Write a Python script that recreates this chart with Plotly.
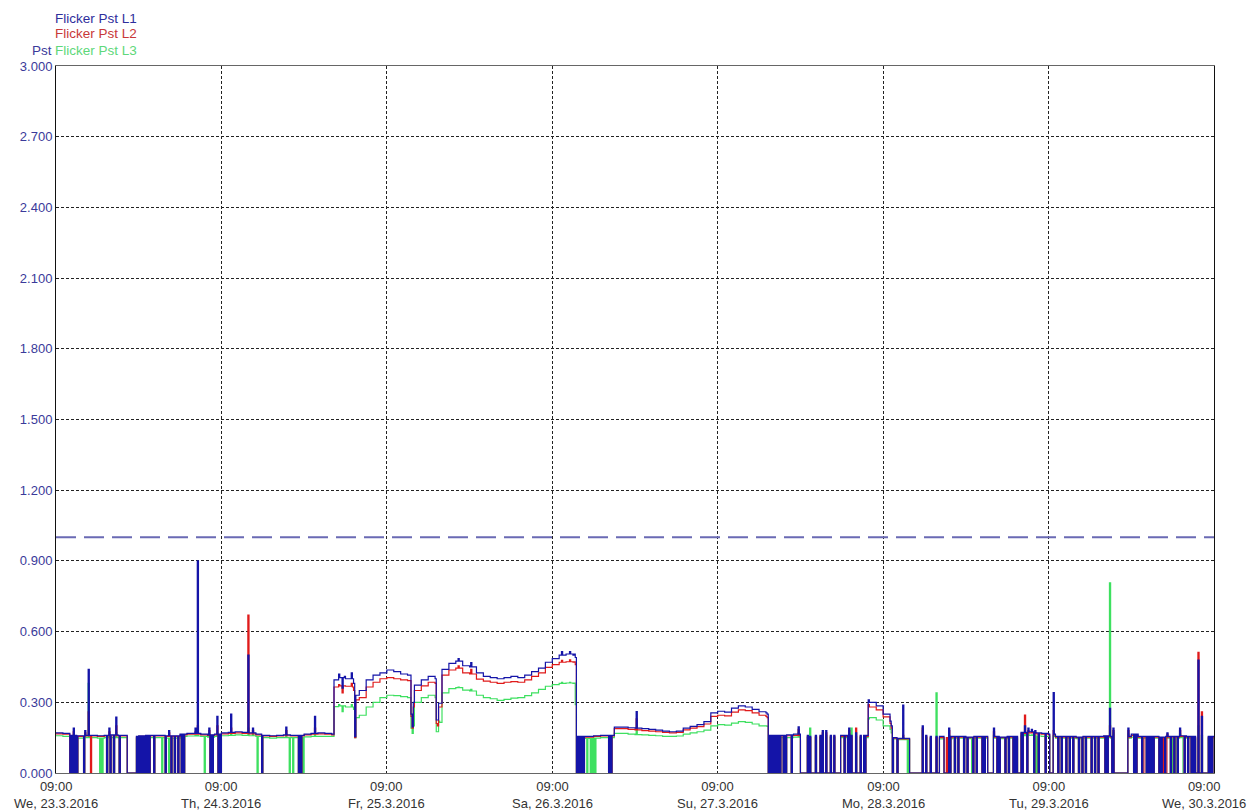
import numpy as np
import pandas as pd
import plotly.graph_objects as go

START = "2016-03-23 09:00"
DAY_LABELS = ["We, 23.3.2016", "Th, 24.3.2016", "Fr, 25.3.2016", "Sa, 26.3.2016",
              "Su, 27.3.2016", "Mo, 28.3.2016", "Tu, 29.3.2016", "We, 30.3.2016"]
Y_TICKS = [0.0, 0.3, 0.6, 0.9, 1.2, 1.5, 1.8, 2.1, 2.4, 2.7, 3.0]
LIMIT = 1.0

# hourly base levels (hour 0 = We 23.3.2016 09:00)
L1_HOURLY = [
    0.170, 0.168, 0.160, 0.158, 0.160, 0.160, 0.158, 0.160, 0.162, 0.160, 0.160, 0.000,
    0.158, 0.160, 0.160, 0.160, 0.158, 0.158, 0.165, 0.168, 0.168, 0.165, 0.162, 0.165,
    0.170, 0.172, 0.175, 0.172, 0.170, 0.165, 0.160, 0.158, 0.160, 0.162, 0.160, 0.160,
    0.165, 0.168, 0.170, 0.168, 0.395, 0.405, 0.400, 0.330, 0.350, 0.395, 0.415, 0.425,
    0.437, 0.430, 0.420, 0.415, 0.373, 0.395, 0.410, 0.296, 0.440, 0.465, 0.475, 0.455,
    0.450, 0.425, 0.410, 0.405, 0.400, 0.405, 0.410, 0.405, 0.415, 0.430, 0.445, 0.470,
    0.485, 0.500, 0.505, 0.155, 0.155, 0.155, 0.158, 0.160, 0.160, 0.195, 0.195, 0.192,
    0.190, 0.188, 0.185, 0.182, 0.178, 0.175, 0.178, 0.190, 0.198, 0.205, 0.218, 0.255,
    0.262, 0.258, 0.275, 0.285, 0.280, 0.270, 0.260, 0.160, 0.160, 0.160, 0.162, 0.165,
    0.000, 0.000, 0.000, 0.000, 0.000, 0.000, 0.000, 0.000, 0.000, 0.000, 0.300, 0.285,
    0.250, 0.150, 0.147, 0.147, 0.000, 0.000, 0.000, 0.000, 0.000, 0.000, 0.155, 0.155,
    0.152, 0.155, 0.155, 0.155, 0.155, 0.152, 0.155, 0.155, 0.172, 0.175, 0.170, 0.168,
    0.165, 0.155, 0.155, 0.155, 0.152, 0.155, 0.155, 0.155, 0.158, 0.155, 0.000, 0.155,
    0.165, 0.155, 0.155, 0.155, 0.152, 0.155, 0.155, 0.158, 0.155, 0.000, 0.000, 0.155,
]
L2_HOURLY = [
    0.166, 0.165, 0.158, 0.155, 0.157, 0.157, 0.155, 0.157, 0.158, 0.157, 0.157, 0.000,
    0.155, 0.157, 0.157, 0.157, 0.155, 0.155, 0.162, 0.165, 0.165, 0.162, 0.160, 0.162,
    0.166, 0.168, 0.170, 0.168, 0.166, 0.162, 0.157, 0.155, 0.157, 0.158, 0.157, 0.157,
    0.162, 0.165, 0.166, 0.165, 0.365, 0.370, 0.368, 0.310, 0.320, 0.365, 0.385, 0.400,
    0.405, 0.400, 0.395, 0.392, 0.350, 0.370, 0.385, 0.280, 0.415, 0.437, 0.445, 0.425,
    0.420, 0.398, 0.390, 0.385, 0.380, 0.385, 0.388, 0.385, 0.395, 0.410, 0.425, 0.448,
    0.460, 0.470, 0.472, 0.150, 0.152, 0.152, 0.155, 0.157, 0.157, 0.188, 0.188, 0.185,
    0.183, 0.180, 0.178, 0.175, 0.172, 0.170, 0.172, 0.183, 0.190, 0.197, 0.208, 0.240,
    0.245, 0.242, 0.258, 0.268, 0.265, 0.255, 0.245, 0.157, 0.157, 0.157, 0.158, 0.160,
    0.000, 0.000, 0.000, 0.000, 0.000, 0.000, 0.000, 0.000, 0.000, 0.000, 0.280, 0.268,
    0.238, 0.148, 0.145, 0.145, 0.000, 0.000, 0.000, 0.000, 0.000, 0.000, 0.152, 0.152,
    0.150, 0.152, 0.152, 0.152, 0.152, 0.150, 0.152, 0.152, 0.168, 0.170, 0.166, 0.165,
    0.162, 0.152, 0.152, 0.152, 0.150, 0.152, 0.152, 0.152, 0.155, 0.152, 0.000, 0.152,
    0.160, 0.152, 0.152, 0.152, 0.150, 0.152, 0.152, 0.155, 0.152, 0.000, 0.000, 0.152,
]
L3_HOURLY = [
    0.158, 0.155, 0.150, 0.148, 0.150, 0.150, 0.148, 0.150, 0.150, 0.150, 0.150, 0.000,
    0.148, 0.150, 0.150, 0.150, 0.148, 0.148, 0.155, 0.157, 0.157, 0.155, 0.152, 0.155,
    0.158, 0.160, 0.162, 0.160, 0.158, 0.155, 0.150, 0.148, 0.150, 0.150, 0.150, 0.150,
    0.153, 0.155, 0.155, 0.155, 0.282, 0.285, 0.280, 0.235, 0.245, 0.280, 0.300, 0.320,
    0.330, 0.328, 0.324, 0.320, 0.300, 0.320, 0.330, 0.215, 0.340, 0.358, 0.362, 0.352,
    0.348, 0.330, 0.320, 0.315, 0.308, 0.312, 0.318, 0.320, 0.328, 0.340, 0.355, 0.368,
    0.375, 0.380, 0.382, 0.145, 0.147, 0.147, 0.148, 0.150, 0.150, 0.168, 0.168, 0.165,
    0.163, 0.162, 0.160, 0.158, 0.155, 0.155, 0.157, 0.165, 0.170, 0.175, 0.182, 0.200,
    0.205, 0.203, 0.212, 0.218, 0.215, 0.208, 0.200, 0.150, 0.150, 0.150, 0.150, 0.152,
    0.000, 0.000, 0.000, 0.000, 0.000, 0.000, 0.000, 0.000, 0.000, 0.000, 0.235, 0.225,
    0.200, 0.145, 0.142, 0.142, 0.000, 0.000, 0.000, 0.000, 0.000, 0.000, 0.148, 0.148,
    0.146, 0.148, 0.148, 0.148, 0.148, 0.146, 0.148, 0.148, 0.158, 0.160, 0.157, 0.155,
    0.155, 0.148, 0.148, 0.148, 0.146, 0.148, 0.148, 0.148, 0.150, 0.148, 0.000, 0.148,
    0.152, 0.148, 0.148, 0.148, 0.146, 0.148, 0.148, 0.150, 0.148, 0.000, 0.000, 0.148,
]

# 10-minute sample indices where the recorded value drops to zero
GAP_ALL = [12, 14, 16, 18, 24, 44, 47, 50, 55, 62, 63, 64, 65, 69, 71, 73, 75, 77, 79, 81,
           85, 95, 100, 103, 106, 109, 111, 134, 136, 141, 143, 179, 211, 213,
           453, 455, 457, 459, 481, 483, 620, 622, 624, 626, 628, 630, 633, 635, 640,
           728, 732, 743, 782, 785, 790, 793, 798, 801, 806, 808,
           811, 812, 813, 814, 815, 819, 821, 826, 829, 833, 835, 837, 838, 839,
           841, 845, 851, 855, 861, 865, 866, 867,
           872, 875, 879, 882, 885, 890, 893, 896, 901, 904, 907, 913,
           915, 919, 921, 922, 923, 930, 931, 932, 938, 940, 945, 949, 951, 953,
           955, 960, 962, 965, 970, 973, 976, 982, 985, 988, 1002, 1004, 1006]
GAP_L2 = [30, 627, 946, 964, 966]
GAP_L3 = [38, 40, 92, 98, 129, 175, 203, 206, 215, 462, 465, 467, 469, 741, 797, 820,
          853, 972, 975, 981]

# single 10-minute samples that differ from the hourly level
PULSE_IDX = [15, 25, 28, 46, 52, 70, 98, 121, 123, 133, 140,
             152, 167, 171, 200, 225, 240, 241, 246, 249, 251, 257, 258, 259, 260,
             309, 310, 311, 330, 331, 332, 333, 350, 361, 440, 447, 450, 451, 452,
             505, 618, 619, 646, 654, 656, 661, 665, 667, 670, 674, 677, 683, 684, 685,
             687, 688, 690, 692, 696, 700, 703, 705, 706, 707,
             726, 727, 737, 754, 757, 761, 766, 769, 770, 771, 772, 775, 777, 779,
             816, 843, 846, 849, 852, 868, 917, 920, 933, 967, 978, 991, 994, 997]
PULSE_L1 = [0.190, 0.180, 0.440, 0.190, 0.237, 0.155, 0.180, 0.190, 0.900, 0.190, 0.240,
            0.250, 0.500, 0.190, 0.195, 0.240, 0.165, 0.165, 0.420, 0.360, 0.410, 0.425, 0.400, 0.380, 0.154,
            0.250, 0.196, 0.300, 0.400, 0.225, 0.225, 0.296, 0.485, 0.468, 0.515, 0.515, 0.500, 0.505, 0.490,
            0.261, 0.255, 0.250, 0.196, 0.160, 0.155, 0.160, 0.160, 0.180, 0.180, 0.160, 0.160, 0.160, 0.160, 0.160,
            0.160, 0.160, 0.190, 0.160, 0.170, 0.160, 0.160, 0.160, 0.160, 0.310,
            0.220, 0.200, 0.288, 0.200, 0.160, 0.155, 0.155, 0.155, 0.155, 0.155, 0.155, 0.000, 0.190, 0.155,
            0.190, 0.200, 0.190, 0.185, 0.180, 0.341, 0.274, 0.190, 0.190, 0.170, 0.190, 0.155, 0.479, 0.240]
PULSE_L2 = [0.175, 0.170, 0.260, 0.175, 0.200, 0.152, 0.170, 0.175, 0.200, 0.180, 0.200,
            0.190, 0.670, 0.180, 0.180, 0.190, 0.162, 0.162, 0.375, 0.340, 0.370, 0.380, 0.365, 0.350, 0.150,
            0.240, 0.190, 0.280, 0.380, 0.210, 0.200, 0.280, 0.455, 0.440, 0.478, 0.480, 0.470, 0.472, 0.460,
            0.230, 0.240, 0.235, 0.185, 0.155, 0.150, 0.155, 0.155, 0.170, 0.170, 0.155, 0.155, 0.155, 0.155, 0.155,
            0.155, 0.155, 0.180, 0.155, 0.190, 0.155, 0.155, 0.155, 0.155, 0.290,
            0.210, 0.190, 0.160, 0.190, 0.155, 0.150, 0.150, 0.150, 0.150, 0.150, 0.150, 0.150, 0.180, 0.150,
            0.175, 0.246, 0.180, 0.175, 0.172, 0.180, 0.200, 0.180, 0.180, 0.165, 0.180, 0.150, 0.512, 0.260]
PULSE_L3 = [0.160, 0.160, 0.380, 0.160, 0.170, 0.148, 0.000, 0.160, 0.160, 0.165, 0.170,
            0.170, 0.190, 0.170, 0.165, 0.165, 0.155, 0.155, 0.290, 0.260, 0.285, 0.290, 0.280, 0.270, 0.150,
            0.190, 0.168, 0.200, 0.320, 0.175, 0.175, 0.220, 0.365, 0.355, 0.385, 0.385, 0.380, 0.382, 0.290,
            0.190, 0.200, 0.198, 0.170, 0.150, 0.190, 0.150, 0.150, 0.160, 0.160, 0.150, 0.150, 0.150, 0.150, 0.150,
            0.150, 0.150, 0.165, 0.190, 0.155, 0.150, 0.150, 0.150, 0.150, 0.230,
            0.185, 0.170, 0.150, 0.180, 0.150, 0.145, 0.340, 0.145, 0.145, 0.145, 0.145, 0.000, 0.160, 0.145,
            0.160, 0.170, 0.165, 0.162, 0.160, 0.160, 0.807, 0.170, 0.165, 0.155, 0.165, 0.145, 0.200, 0.160]

SERIES_NAMES = ["Flicker Pst L1", "Flicker Pst L2", "Flicker Pst L3"]
SERIES_COLORS = ["#1414a8", "#e01a1a", "#3ee060"]
LABEL_COLORS = ["#2e2e9c", "#c83838", "#5ed87a"]


def build(hourly, pulses, own_gaps):
    v = np.repeat(np.array(hourly, dtype=float), 6)
    for i in GAP_ALL + own_gaps:
        v[i] = 0.0
    for i, p in zip(PULSE_IDX, pulses):
        v[i] = p
    return np.append(v, v[-1])


times = pd.date_range(START, periods=7 * 144 + 1, freq="10min")
series = [
    build(L1_HOURLY, PULSE_L1, []),
    build(L2_HOURLY, PULSE_L2, GAP_L2),
    build(L3_HOURLY, PULSE_L3, GAP_L3),
]

fig = go.Figure()
for k in [2, 1, 0]:
    fig.add_trace(go.Scatter(x=times, y=series[k], mode="lines", name=SERIES_NAMES[k],
                             line=dict(color=SERIES_COLORS[k], width=1.2, shape="hv"),
                             showlegend=False))

t0 = pd.Timestamp(START)
t_end = t0 + pd.Timedelta(days=7)
fig.add_trace(go.Scatter(x=[t0, t_end], y=[LIMIT, LIMIT], mode="lines", showlegend=False,
                         line=dict(color="#6a6ab4", width=2, dash="20px,8px")))

FONT = "Liberation Sans, Arial, sans-serif"
# page body has an 8px margin, so the figure is 8px smaller on each side
fig.update_layout(
    width=1247, height=804,
    margin=dict(l=46, r=41, t=58, b=39),
    paper_bgcolor="white", plot_bgcolor="white",
    font=dict(family=FONT, size=13),
    xaxis=dict(type="date", range=[t0, t_end], tick0=t0, dtick=86400000,
               showticklabels=False, ticks="", showgrid=True, gridcolor="#222",
               griddash="3px,2px", gridwidth=1, showline=True, linecolor="#666",
               linewidth=1, mirror=True, zeroline=False),
    yaxis=dict(range=[0, 3], tickvals=Y_TICKS, tickformat=".3f", ticks="",
               tickfont=dict(color="#3a3a9a", size=13, family=FONT),
               showgrid=True, gridcolor="#222", griddash="3px,2px", gridwidth=1,
               showline=True, linecolor="#111", linewidth=1, mirror=True, zeroline=False),
)

ann = []
for d, lab in enumerate(DAY_LABELS):
    if d < 7:
        ann.append(dict(x=t0 + pd.Timedelta(days=d), xref="x", y=0, yref="paper",
                        yanchor="top", xanchor="center", yshift=-4, showarrow=False,
                        text="09:00<br>" + lab, align="center",
                        font=dict(color="#333333", size=13, family=FONT)))
    else:
        ann.append(dict(x=1.0, xref="paper", y=0, yref="paper", yanchor="top",
                        xanchor="center", xshift=-10, yshift=-4, showarrow=False,
                        text="09:00<br>" + lab, align="center",
                        font=dict(color="#333333", size=13, family=FONT)))

for k, yp in enumerate([18, 34, 50]):
    ann.append(dict(x=0, xref="paper", xshift=-3, y=(773 - yp) / 707.0, yref="paper",
                    xanchor="left", yanchor="middle", showarrow=False,
                    text=SERIES_NAMES[k], font=dict(color=LABEL_COLORS[k], size=13.5, family=FONT)))
ann.append(dict(x=0, xref="paper", xshift=-2, y=(773 - 50) / 707.0, yref="paper",
                xanchor="right", yanchor="middle", showarrow=False, text="Pst",
                font=dict(color="#3a3a9a", size=13.5, family=FONT)))
fig.update_layout(annotations=ann)

fig.write_html("out.html")
